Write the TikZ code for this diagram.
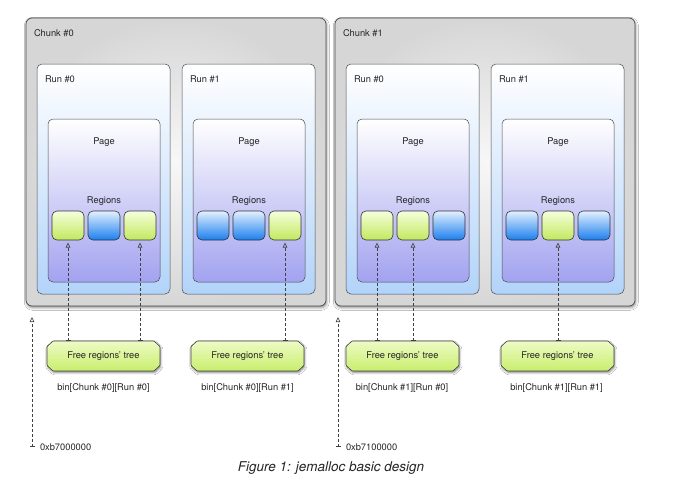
\documentclass[tikz,border=0pt]{standalone}
\usepackage{fontspec}
\setmainfont{TeX Gyre Heros}
\usetikzlibrary{shadows,shadows.blur,arrows.meta}
\definecolor{edgec}{HTML}{4A4A4A}
\definecolor{runbot}{HTML}{B2D3FA}
\definecolor{pagebot}{HTML}{A2A2F0}
\definecolor{grntop}{HTML}{F6FFDC}
\definecolor{grnbot}{HTML}{C2E85E}
\definecolor{blutop}{HTML}{E2F1FF}
\definecolor{blubot}{HTML}{1C7EEE}
\definecolor{treetop}{HTML}{EEFBC6}
\definecolor{treebot}{HTML}{C8EE6C}
\newcommand\runblk[6]{%
  \node[runbox] (#1) at (#2,64) {};
  \node[lbl] (#1lab) at (#2+8,79) {#3};
  \node[pagebox] (#1p) at (#2+11,119) {};
  \node[lblc] (#1ptxt) at (#2+67,142) {Page};
  \node[lblc] (#1rtxt) at (#2+67,201) {Regions};
  \node[#4] (#1a) at (#2+15,211) {};
  \node[#5] (#1b) at (#2+51,211) {};
  \node[#6] (#1c) at (#2+87,211) {};
}
% tree: #1 name, #2 left x
\newcommand\treeblk[2]{%
  \path[treeshape] (#2+6,341) -- (#2+107,341) -- (#2+113,346.5) -- (#2+113,365.5)
     -- (#2+107,371) -- (#2+6,371) -- (#2,365.5) -- (#2,346.5) -- cycle;
  \node[treetxt] (#1) at (#2+56.5,356) {Free regions' tree};
}
\begin{document}
\begin{tikzpicture}[x=1pt,y=-1pt,
  font=\fontsize{9.3}{11}\selectfont,
  every node/.style={outer sep=0pt},
  chunkbox/.style={draw=edgec, line width=0.7pt, rounded corners=6pt, anchor=north west,
    minimum width=300pt, minimum height=288pt, inner color=gray!6, outer color=gray!32,
    blur shadow={shadow xshift=0.8pt, shadow yshift=-1.8pt, shadow blur radius=2.5pt, shadow opacity=45}},
  runbox/.style={draw=edgec, line width=0.5pt, rounded corners=5pt, anchor=north west,
    minimum width=133pt, minimum height=230pt, top color=white, bottom color=runbot},
  pagebox/.style={draw=edgec, line width=0.5pt, rounded corners=5pt, anchor=north west,
    minimum width=112pt, minimum height=163pt, top color=white, bottom color=pagebot},
  regbox/.style={draw=black!80, line width=0.6pt, rounded corners=5pt, anchor=north west,
    minimum width=32pt, minimum height=29pt},
  grn/.style={regbox, top color=grntop, bottom color=grnbot},
  blu/.style={regbox, top color=blutop, bottom color=blubot},
  treeshape/.style={draw=black!75, line width=0.6pt, rounded corners=0.8pt,
    top color=treetop, bottom color=treebot,
    blur shadow={shadow xshift=0.8pt, shadow yshift=-1.8pt, shadow blur radius=2pt, shadow opacity=45}},
  treetxt/.style={minimum width=113pt, minimum height=30pt, inner sep=0pt, text=black!85},
  lbl/.style={anchor=west, inner sep=0pt, text=black!85},
  lblc/.style={anchor=center, inner sep=0pt, text=black!85},
  freearrow/.style={densely dashed, line width=0.6pt, black!75,
    {Bar[width=5pt,line width=0.6pt]}-{Triangle[open,length=5pt,width=4.5pt,line width=0.6pt]}, shorten >=2.5pt},
  addrarrow/.style={densely dashed, line width=0.6pt, black!75,
    {Bar[width=5pt,line width=0.6pt]}-{Triangle[open,length=5pt,width=4.5pt,line width=0.6pt]}}
]
\useasboundingbox[fill=white] (0,0) rectangle (688,493);
% chunks
\node[chunkbox] (c0) at (26,18) {};
\node[lbl] (c0lab) at (34,33) {Chunk \#0};
\node[chunkbox] (c1) at (335,18) {};
\node[lbl] (c1lab) at (343,33) {Chunk \#1};
% runs
\runblk{c0r0}{37}{Run \#0}{grn}{blu}{grn}
\runblk{c0r1}{182}{Run \#1}{blu}{blu}{grn}
\runblk{c1r0}{346}{Run \#0}{grn}{grn}{blu}
\runblk{c1r1}{491}{Run \#1}{blu}{grn}{blu}
% trees
\treeblk{t00}{47}
\treeblk{t01}{191}
\treeblk{t10}{346}
\treeblk{t11}{501}
% bin labels
\node[lblc] (b00) at (103.5,388) {bin[Chunk \#0][Run \#0]};
\node[lblc] (b01) at (247.5,388) {bin[Chunk \#0][Run \#1]};
\node[lblc] (b10) at (402,388) {bin[Chunk \#1][Run \#0]};
\node[lblc] (b11) at (556.5,388) {bin[Chunk \#1][Run \#1]};
% free-region arrows
\draw[freearrow] (t00.north -| c0r0a.south) -- (c0r0a.south);
\draw[freearrow] (t00.north -| c0r0c.south) -- (c0r0c.south);
\draw[freearrow] (t01.north -| c0r1c.south) -- (c0r1c.south);
\draw[freearrow] (t10.north -| c1r0a.south) -- (c1r0a.south);
\draw[freearrow] (t10.north -| c1r0b.south) -- (c1r0b.south);
\draw[freearrow] (t11.north -| c1r1b.south) -- (c1r1b.south);
% addresses
\coordinate (a0top) at (32,317);
\coordinate (a0bot) at (32,447);
\node[lbl] (addr0) at (40,447) {0xb7000000};
\draw[addrarrow] (a0bot) -- (a0top);
\coordinate (a1top) at (338,317);
\coordinate (a1bot) at (338,447);
\node[lbl] (addr1) at (346,447) {0xb7100000};
\draw[addrarrow] (a1bot) -- (a1top);
% caption
\node[lblc, font=\fontsize{13.5}{15}\selectfont\itshape] (cap) at (331,468) {Figure 1: jemalloc basic design};
\end{tikzpicture}
\end{document}
